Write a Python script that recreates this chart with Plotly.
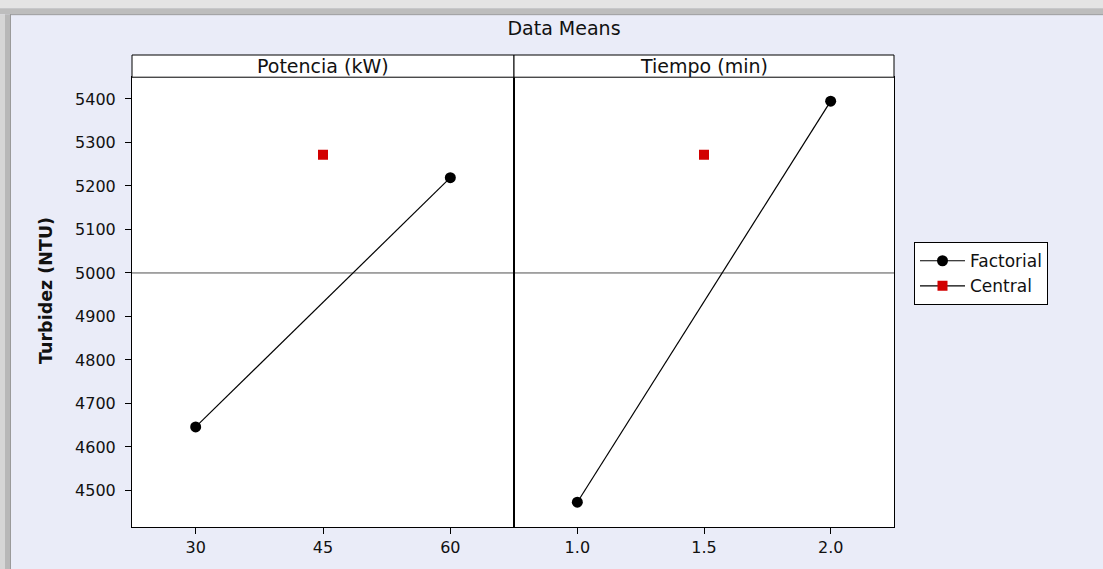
import plotly.graph_objects as go
from plotly.subplots import make_subplots

# ---- data ----
potencia_levels = [30, 60]
potencia_factorial = [4646, 5219]
potencia_center = [45]
potencia_center_val = [5272]

tiempo_levels = [1.0, 2.0]
tiempo_factorial = [4473, 5395]
tiempo_center = [1.5]
tiempo_center_val = [5272]

grand_mean = 5000
y_ticks = [4500, 4600, 4700, 4800, 4900, 5000, 5100, 5200, 5300, 5400]
potencia_ticks = [30, 45, 60]
potencia_ticklabels = ["30", "45", "60"]
tiempo_ticks = [1.0, 1.5, 2.0]
tiempo_ticklabels = ["1.0", "1.5", "2.0"]
panel_titles = ["Potencia (kW)", "Tiempo (min)"]

# ---- layout geometry ----
W, H = 1103, 569
L, R, T, B = 132, 209, 55, 40
PW, PH = W - L - R, H - T - B
def px_x(p):
    return (p - L) / PW
def px_y(p):
    return (H - B - p) / PH

split = px_x(514)
ytop = px_y(77.3)

FONT = "DejaVu Sans"
fig = make_subplots(rows=1, cols=2, shared_yaxes=True, horizontal_spacing=0)

fig.add_trace(go.Scatter(x=potencia_levels, y=potencia_factorial, mode="lines+markers",
                         name="Factorial", legendgroup="f",
                         line=dict(color="black", width=1.2),
                         marker=dict(symbol="circle", size=11, color="black")), row=1, col=1)
fig.add_trace(go.Scatter(x=potencia_center, y=potencia_center_val, mode="lines+markers",
                         name="Central", legendgroup="c",
                         line=dict(color="black", width=1.2),
                         marker=dict(symbol="square", size=10, color="#D20000")), row=1, col=1)
fig.add_trace(go.Scatter(x=tiempo_levels, y=tiempo_factorial, mode="lines+markers",
                         name="Factorial", legendgroup="f", showlegend=False,
                         line=dict(color="black", width=1.2),
                         marker=dict(symbol="circle", size=11, color="black")), row=1, col=2)
fig.add_trace(go.Scatter(x=tiempo_center, y=tiempo_center_val, mode="lines+markers",
                         name="Central", legendgroup="c", showlegend=False,
                         line=dict(color="black", width=1.2),
                         marker=dict(symbol="square", size=10, color="#D20000")), row=1, col=2)

tickfont = dict(family=FONT, size=16, color="#111111")
axcommon = dict(showline=True, linecolor="black", linewidth=1, mirror=True,
                showgrid=False, zeroline=False, ticks="outside", ticklen=6,
                tickcolor="black", tickfont=tickfont)

fig.update_layout(
    xaxis=dict(domain=[0, split], range=[22.5, 67.5], tickvals=potencia_ticks,
               ticktext=potencia_ticklabels, **axcommon),
    xaxis2=dict(domain=[split, 1], range=[0.75, 2.25], tickvals=tiempo_ticks,
                ticktext=tiempo_ticklabels, **axcommon),
    yaxis=dict(domain=[0, ytop], range=[4416, 5450], tickvals=y_ticks,
               ticklabelstandoff=6, **axcommon),
    yaxis2=dict(domain=[0, ytop], range=[4416, 5450], showline=True, linecolor="black",
                linewidth=1, mirror=True, showgrid=False, zeroline=False,
                showticklabels=False, ticks=""),
)

shapes = []
# outer border / shadow
shapes.append(dict(type="rect", xref="paper", yref="paper", x0=px_x(-5), x1=px_x(W + 5),
                   y0=px_y(8), y1=px_y(-5), fillcolor="#E4E4E4", line=dict(width=0), layer="below"))
shapes.append(dict(type="rect", xref="paper", yref="paper", x0=px_x(-5), x1=px_x(W + 5),
                   y0=px_y(14), y1=px_y(8), fillcolor="#BDBDBD", line=dict(width=0), layer="below"))
shapes.append(dict(type="line", xref="paper", yref="paper", x0=px_x(10), x1=px_x(W + 5),
                   y0=px_y(14.5), y1=px_y(14.5), line=dict(color="#9A9A9A", width=1), layer="below"))
shapes.append(dict(type="rect", xref="paper", yref="paper", x0=px_x(-5), x1=px_x(5),
                   y0=px_y(H + 5), y1=px_y(14), fillcolor="#D6D6D6", line=dict(width=0), layer="below"))
shapes.append(dict(type="rect", xref="paper", yref="paper", x0=px_x(5), x1=px_x(10),
                   y0=px_y(H + 5), y1=px_y(14), fillcolor="#B8B8B8", line=dict(width=0), layer="below"))
shapes.append(dict(type="line", xref="paper", yref="paper", x0=px_x(10.5), x1=px_x(10.5),
                   y0=px_y(H + 5), y1=px_y(14), line=dict(color="#9A9A9A", width=1), layer="below"))
# strips
shapes.append(dict(type="rect", xref="paper", yref="paper", x0=0, x1=split, y0=ytop, y1=1,
                   fillcolor="white", line=dict(color="black", width=1)))
shapes.append(dict(type="rect", xref="paper", yref="paper", x0=split, x1=1, y0=ytop, y1=1,
                   fillcolor="white", line=dict(color="black", width=1)))
# reference line at grand mean
for xr in ["x domain", "x2 domain"]:
    shapes.append(dict(type="line", xref=xr, yref="y", x0=0, x1=1, y0=grand_mean, y1=grand_mean,
                       line=dict(color="#505050", width=1), layer="below"))

annotations = [
    dict(text=panel_titles[0], xref="paper", yref="paper", x=split / 2, y=(ytop + 1) / 2,
         xanchor="center", yanchor="middle",
         showarrow=False, font=dict(family=FONT, size=19, color="#111111")),
    dict(text=panel_titles[1], xref="paper", yref="paper", x=(split + 1) / 2, y=(ytop + 1) / 2,
         xanchor="center", yanchor="middle",
         showarrow=False, font=dict(family=FONT, size=19, color="#111111")),
    dict(text="<b>Turbidez (NTU)</b>", xref="paper", yref="paper", x=px_x(46), y=px_y(292),
         xanchor="center", yanchor="middle",
         textangle=-90, showarrow=False, font=dict(family=FONT, size=17.5, color="#111111")),
]

fig.update_layout(
    width=W, height=H,
    margin=dict(l=L, r=R, t=T, b=B),
    paper_bgcolor="#EAECF8",
    plot_bgcolor="white",
    title=dict(text="Data Means", x=564 / W, xanchor="center", xref="container",
               y=1 - 28 / H, yanchor="middle", yref="container",
               font=dict(family=FONT, size=19, color="#111111")),
    shapes=shapes,
    annotations=annotations,
    showlegend=True,
    legend=dict(x=px_x(914), y=px_y(243), xanchor="left", yanchor="top",
                bgcolor="white", bordercolor="black", borderwidth=1,
                font=dict(family=FONT, size=17, color="#111111"),
                itemwidth=45, tracegroupgap=0),
)

fig.write_html("out.html", config={"displayModeBar": False},
               post_script="document.body.style.margin='0';")
